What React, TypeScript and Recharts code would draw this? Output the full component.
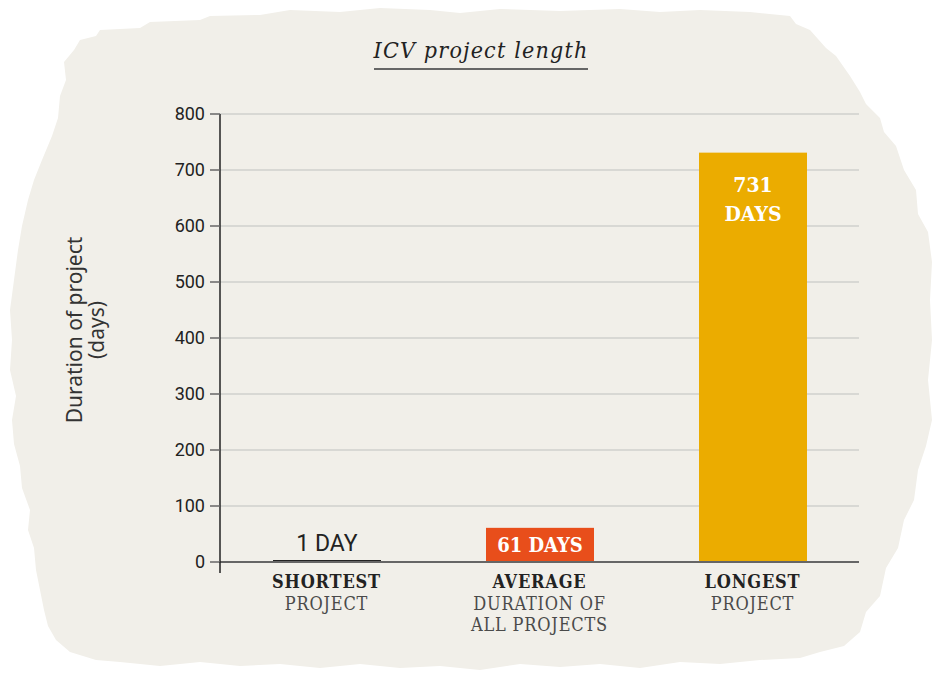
import React from 'react';
import { BarChart, Bar, XAxis, YAxis, CartesianGrid, LabelList, Cell } from 'recharts';

const categories = ['SHORTEST', 'AVERAGE', 'LONGEST'];
const subLabels = [['PROJECT'], ['DURATION OF', 'ALL PROJECTS'], ['PROJECT']];
const durations = [1, 61, 731];
const barLabels = ['1 DAY', '61 DAYS', '731 DAYS'];
const barColors = ['#222222', '#e84e1b', '#ebac00'];
const yTicks = [0, 100, 200, 300, 400, 500, 600, 700, 800];

const data = categories.map((c, i) => ({ name: c, days: durations[i], label: barLabels[i] }));

const SLAB = '"DejaVu Serif Condensed", "DejaVu Serif", serif';
const SANS = 'Roboto, "Noto Sans", sans-serif';

// rough paper-like backdrop
const blob =
  'M80,40 L96,36 L100,30 L140,28 L150,22 L200,20 L210,16 L260,15 L290,10 L340,12 L380,8 L430,10 L460,13 L500,9 ' +
  'L560,11 L620,9 L660,12 L700,10 L750,12 L790,16 L796,24 L810,30 L826,48 L836,56 L850,76 L860,92 L866,104 L880,118 ' +
  'L884,132 L896,146 L904,170 L916,190 L918,214 L928,232 L932,262 L930,300 L932,340 L928,380 L932,420 L926,446 ' +
  'L918,470 L914,500 L904,520 L898,548 L886,568 L880,596 L866,612 L860,632 L844,646 L820,652 L800,658 L760,660 ' +
  'L720,664 L680,662 L640,668 L600,664 L560,667 L520,664 L480,670 L440,666 L400,668 L360,664 L320,668 L280,664 ' +
  'L240,666 L200,662 L160,666 L120,662 L96,660 L70,652 L56,640 L48,626 L44,610 L40,590 L36,570 L34,548 L28,530 ' +
  'L30,510 L22,488 L20,466 L14,444 L12,420 L16,396 L10,370 L12,340 L10,310 L14,280 L18,250 L22,226 L28,200 ' +
  'L34,180 L42,160 L52,136 L58,118 L60,96 L66,80 L64,62 L74,50 Z';

function CategoryTick({ x, y, payload, index }: any) {
  const i = payload?.index ?? index;
  const subs = subLabels[i] || [];
  return (
    <g>
      <text x={x} y={y + 18} textAnchor="middle" fontFamily={SLAB} fontWeight={700} fontSize={18} fill="#222" letterSpacing={0.8}>
        {payload.value}
      </text>
      {subs.map((s, k) => (
        <text key={k} x={x} y={y + 40 + k * 21} textAnchor="middle" fontFamily={SLAB} fontSize={18} fill="#4a4a4a" letterSpacing={0.8}>
          {s}
        </text>
      ))}
    </g>
  );
}

function BarLabel(props: any) {
  const { x, y, width, height, index, value } = props;
  const cx = x + width / 2;
  if (index === 0) {
    return (
      <text x={cx} y={y - 10} textAnchor="middle" fontFamily={SANS} fontSize={23} fill="#222">
        {value}
      </text>
    );
  }
  if (index === 1) {
    return (
      <text x={cx} y={y + height / 2 + 7} textAnchor="middle" fontFamily={SLAB} fontWeight={700} fontSize={20} fill="#fff">
        {value}
      </text>
    );
  }
  const parts = String(value).split(' ');
  return (
    <g>
      {parts.map((p, k) => (
        <text key={k} x={cx} y={y + 39 + k * 29} textAnchor="middle" fontFamily={SLAB} fontWeight={700} fontSize={21} fill="#fff">
          {p}
        </text>
      ))}
    </g>
  );
}

function MinBar(props: any) {
  const { x, y, width, height, fill } = props;
  const h = Math.max(height, 2);
  return <rect x={x} y={y + height - h} width={width} height={h} fill={fill} />;
}

function YLabel({ viewBox }: any) {
  const cx = viewBox.x - 75;
  const cy = viewBox.y + viewBox.height / 2 - 8;
  const axisX = viewBox.x + viewBox.width;
  const bottom = viewBox.y + viewBox.height;
  return (
    <g>
      <line x1={axisX} x2={axisX} y1={bottom} y2={bottom + 11} stroke="#222" strokeWidth={1.5} />
      <text transform={`rotate(-90, ${cx}, ${cy})`} x={cx} y={cy} textAnchor="middle" fontFamily={'"Noto Sans", sans-serif'} fontSize={21} fill="#333">
        <tspan x={cx} dy={-3}>Duration of project</tspan>
        <tspan x={cx} dy={22}>(days)</tspan>
      </text>
    </g>
  );
}

export default function App() {
  return (
    <div style={{ position: 'absolute', left: 0, top: 0, width: 932, height: 676, background: '#fff' }}>
      <svg width={932} height={676} style={{ position: 'absolute', left: 0, top: 0 }}>
        <path d={blob} fill="#f1efe9" />
      </svg>
      <div
        style={{
          position: 'absolute',
          left: 0,
          top: 37,
          width: 962,
          textAlign: 'center',
          fontFamily: SLAB,
          fontStyle: 'italic',
          fontSize: 23,
          color: '#222',
        }}
      >
        <span style={{ borderBottom: '2px solid #666', paddingBottom: 5, letterSpacing: 1.2 }}>ICV project length</span>
      </div>
      <div style={{ position: 'absolute', left: 0, top: 0 }}>
        <BarChart width={932} height={676} data={data} margin={{ top: 114, right: 73, bottom: 54, left: 160 }}>
          <CartesianGrid vertical={false} stroke="#d8d8d4" strokeWidth={2} />
          <XAxis
            dataKey="name"
            tickLine={false}
            axisLine={{ stroke: '#666', strokeWidth: 2 }}
            tick={<CategoryTick />}
            interval={0}
            height={60}
          />
          <YAxis
            width={60}
            domain={[0, 800]}
            ticks={yTicks}
            tickSize={10}
            tickMargin={5}
            tickLine={{ stroke: '#666', strokeWidth: 1.5 }}
            axisLine={{ stroke: '#222', strokeWidth: 1.5 }}
            tick={{ fontFamily: SANS, fontSize: 18, fill: '#222' }}
            label={<YLabel />}
          />
          <Bar dataKey="days" barSize={108} isAnimationActive={false} shape={<MinBar />}>
            {data.map((d, i) => (
              <Cell key={d.name} fill={barColors[i]} />
            ))}
            <LabelList dataKey="label" content={<BarLabel />} />
          </Bar>
        </BarChart>
      </div>
    </div>
  );
}
